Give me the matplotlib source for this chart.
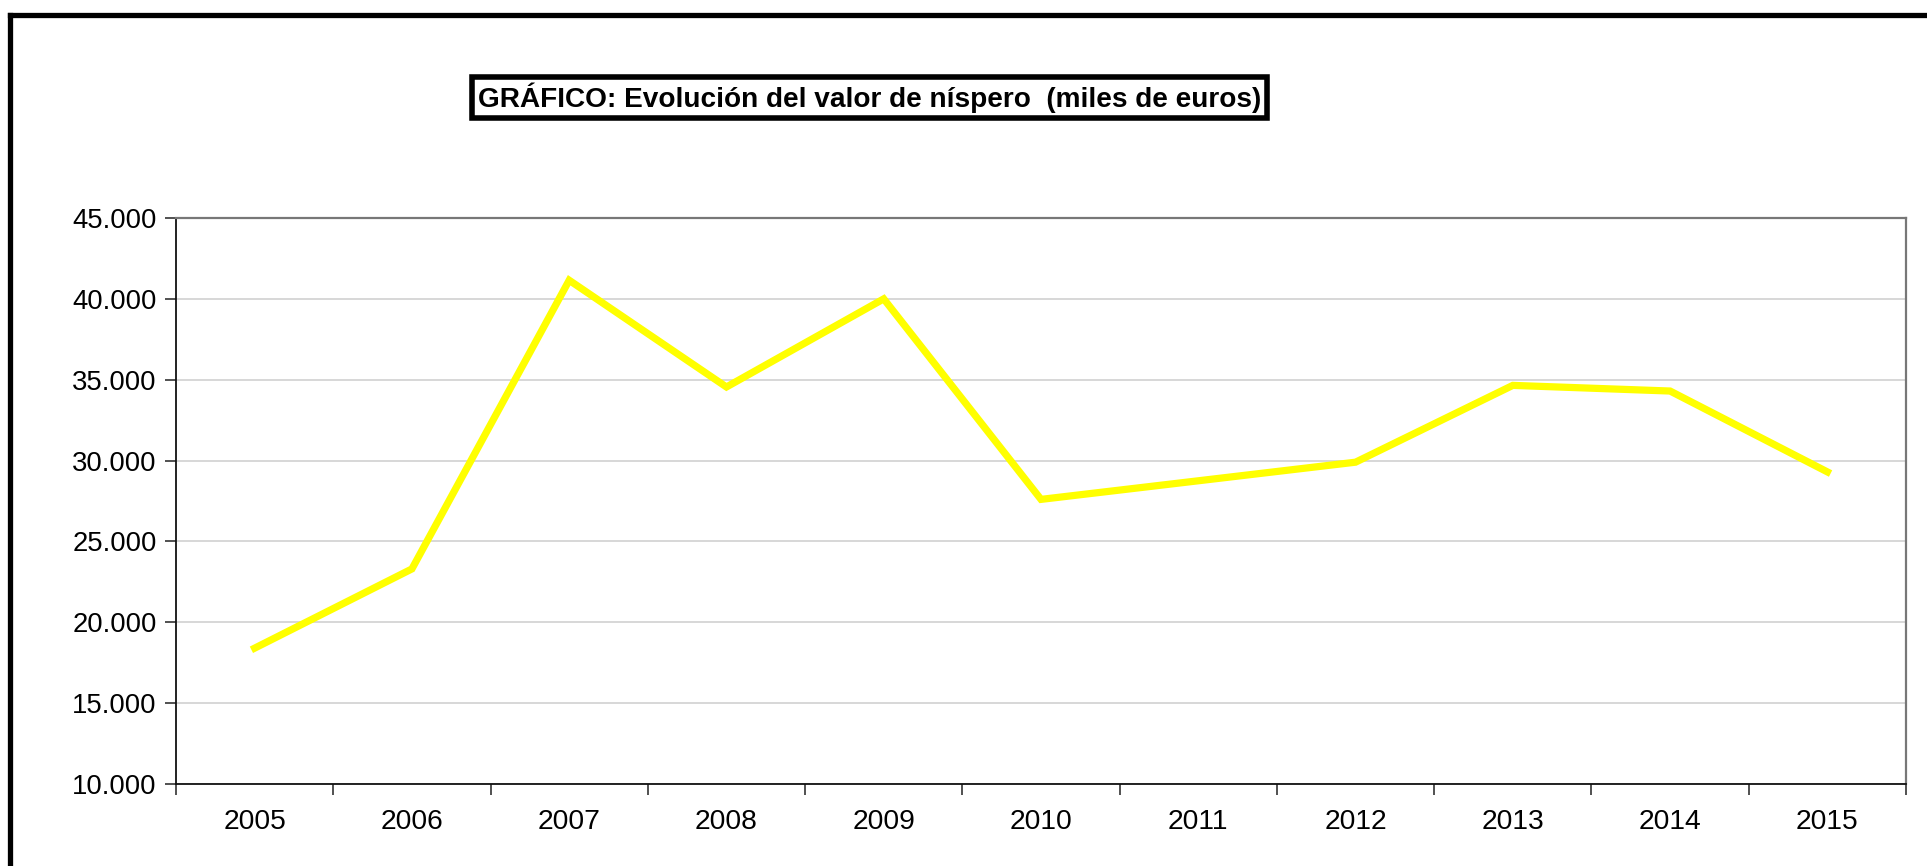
import matplotlib
matplotlib.use("Agg")
import matplotlib.pyplot as plt
from matplotlib.lines import Line2D
from matplotlib.ticker import FuncFormatter, FixedLocator, NullFormatter

years = ["2005", "2006", "2007", "2008", "2009", "2010", "2011", "2012", "2013", "2014", "2015"]
valores = [18400, 23300, 41150, 34550, 40000, 27600, 28750, 29900, 34650, 34300, 29300]
y_ticks = [10000, 15000, 20000, 25000, 30000, 35000, 40000, 45000]
title = "GRÁFICO: Evolución del valor de níspero  (miles de euros)"

plt.rcParams['font.family'] = ['Liberation Sans', 'DejaVu Sans']

W, H = 1927, 866
fig = plt.figure(figsize=(W / 100, H / 100), dpi=100)
fig.patch.set_facecolor("white")

ax = fig.add_axes([176 / W, 1 - 784 / H, (1906 - 176) / W, (784 - 218) / H])
x = list(range(len(years)))
ax.plot(x, valores, color="#FFFF00", lw=5.2, solid_joinstyle="miter", zorder=3)
ax.set_xlim(-0.5, len(years) - 0.5)
ax.set_ylim(10000, 45000)
ax.set_yticks(y_ticks)
ax.yaxis.set_major_formatter(FuncFormatter(lambda v, p: f"{int(v):,}".replace(",", ".")))
ax.grid(axis="y", color="#d4d4d4", lw=1.3)
ax.set_axisbelow(True)

ax.set_xticks(x)
ax.set_xticklabels(years)
ax.tick_params(axis="x", which="major", length=0, pad=18, labelsize=20.3)
ax.xaxis.set_minor_locator(FixedLocator([i - 0.5 for i in range(len(years) + 1)]))
ax.xaxis.set_minor_formatter(NullFormatter())
ax.tick_params(axis="x", which="minor", length=8, width=1.2, color="#333333")
ax.tick_params(axis="y", length=8, width=1.2, color="#333333", labelsize=19.8, pad=6)

for s in ["left", "bottom"]:
    ax.spines[s].set_color("#111111")
    ax.spines[s].set_linewidth(1.3)
for s in ["top", "right"]:
    ax.spines[s].set_color("#777777")
    ax.spines[s].set_linewidth(1.6)

# Title box
fig.text((469 + 1270) / 2 / W, 1 - 97.5 / H, title, ha="center", va="center",
         fontsize=20.2, fontweight="bold", color="black",
         bbox=dict(boxstyle="square,pad=0.2", facecolor="white", edgecolor="black", lw=4))

# Outer border (left and top)
fig.add_artist(Line2D([10 / W, 10 / W], [0, 1 - 15 / H], transform=fig.transFigure,
                      color="black", lw=3.8, solid_capstyle="projecting"))
fig.add_artist(Line2D([10 / W, 1], [1 - 15 / H, 1 - 15 / H], transform=fig.transFigure,
                      color="black", lw=3.8, solid_capstyle="projecting"))

fig.savefig("out.png", dpi=100, facecolor="white")
